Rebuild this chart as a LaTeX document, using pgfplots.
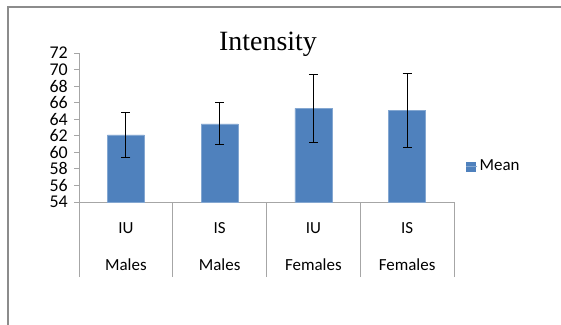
\documentclass[border=0pt]{standalone}
\usepackage{pgfplots}
\pgfplotsset{compat=1.18}
\usepackage{fontspec}
\setmainfont{Carlito}
\newfontfamily\titlefont{Liberation Serif}
\definecolor{barblue}{HTML}{4F81BD}
\definecolor{axgray}{HTML}{A6A6A6}
\definecolor{framegray}{HTML}{8C8C8C}
\pgfplotstableread{
x mean err
0 62.1 2.7
1 63.45 2.55
2 65.3 4.1
3 65.05 4.45
}\datatable
\begin{document}
\begin{tikzpicture}[x=1bp,y=1bp]
\path[use as bounding box] (0,0) rectangle (561,324);
\draw[color=framegray, line width=1.5bp] (8,-2) -- (8,317) -- (561,317);
\node[font=\titlefont\fontsize{28}{28}\selectfont] at (268,280) {Intensity};
\begin{axis}[
  at={(79bp,122bp)}, anchor=south west,
  scale only axis, width=375bp, height=149bp,
  xmin=-0.5, xmax=3.5, ymin=54, ymax=72,
  ytick={54,56,...,72},
  axis x line*=bottom, axis y line*=left,
  axis line style={draw=axgray, line width=0.8bp},
  tick align=outside,
  major tick length=5bp,
  tick style={draw=axgray, line width=0.8bp},
  /pgf/number format/assume math mode=true,
  yticklabel style={font=\fontsize{18}{18}\selectfont, inner sep=0bp, anchor=east, xshift=-6bp},
  xtick={-0.5,0.5,1.5,2.5,3.5},
  x tick label as interval,
  x tick style={/pgfplots/major tick length=75bp, draw=axgray, line width=0.8bp},
  xticklabels={{IU\\[17bp]Males},{IS\\[17bp]Males},{IU\\[17bp]Females},{IS\\[17bp]Females}},
  xticklabel style={align=center, font=\fontsize{17}{20}\selectfont, anchor=north},
  xticklabel shift=12bp,
  legend style={at={(1.032,0.24)}, anchor=west, draw=none, fill=none,
    font=\fontsize{17}{17}\selectfont, inner sep=0pt},
  legend cell align=left,
  legend image code/.code={\fill[barblue] (0bp,-4.5bp) rectangle (9bp,4.5bp); \path (0bp,0bp) -- (11bp,0bp);},
  clip=false,
]
\addplot[ybar, bar width=37bp, fill=barblue, draw=barblue!70!white,
  error bars/.cd, y dir=both, y explicit,
  error bar style={black, line width=1bp},
  error mark options={rotate=90, black, mark size=4.6bp, line width=1bp}]
  table[x=x, y=mean, y error=err] {\datatable};
\addlegendentry{Mean}
\end{axis}
\end{tikzpicture}
\end{document}
